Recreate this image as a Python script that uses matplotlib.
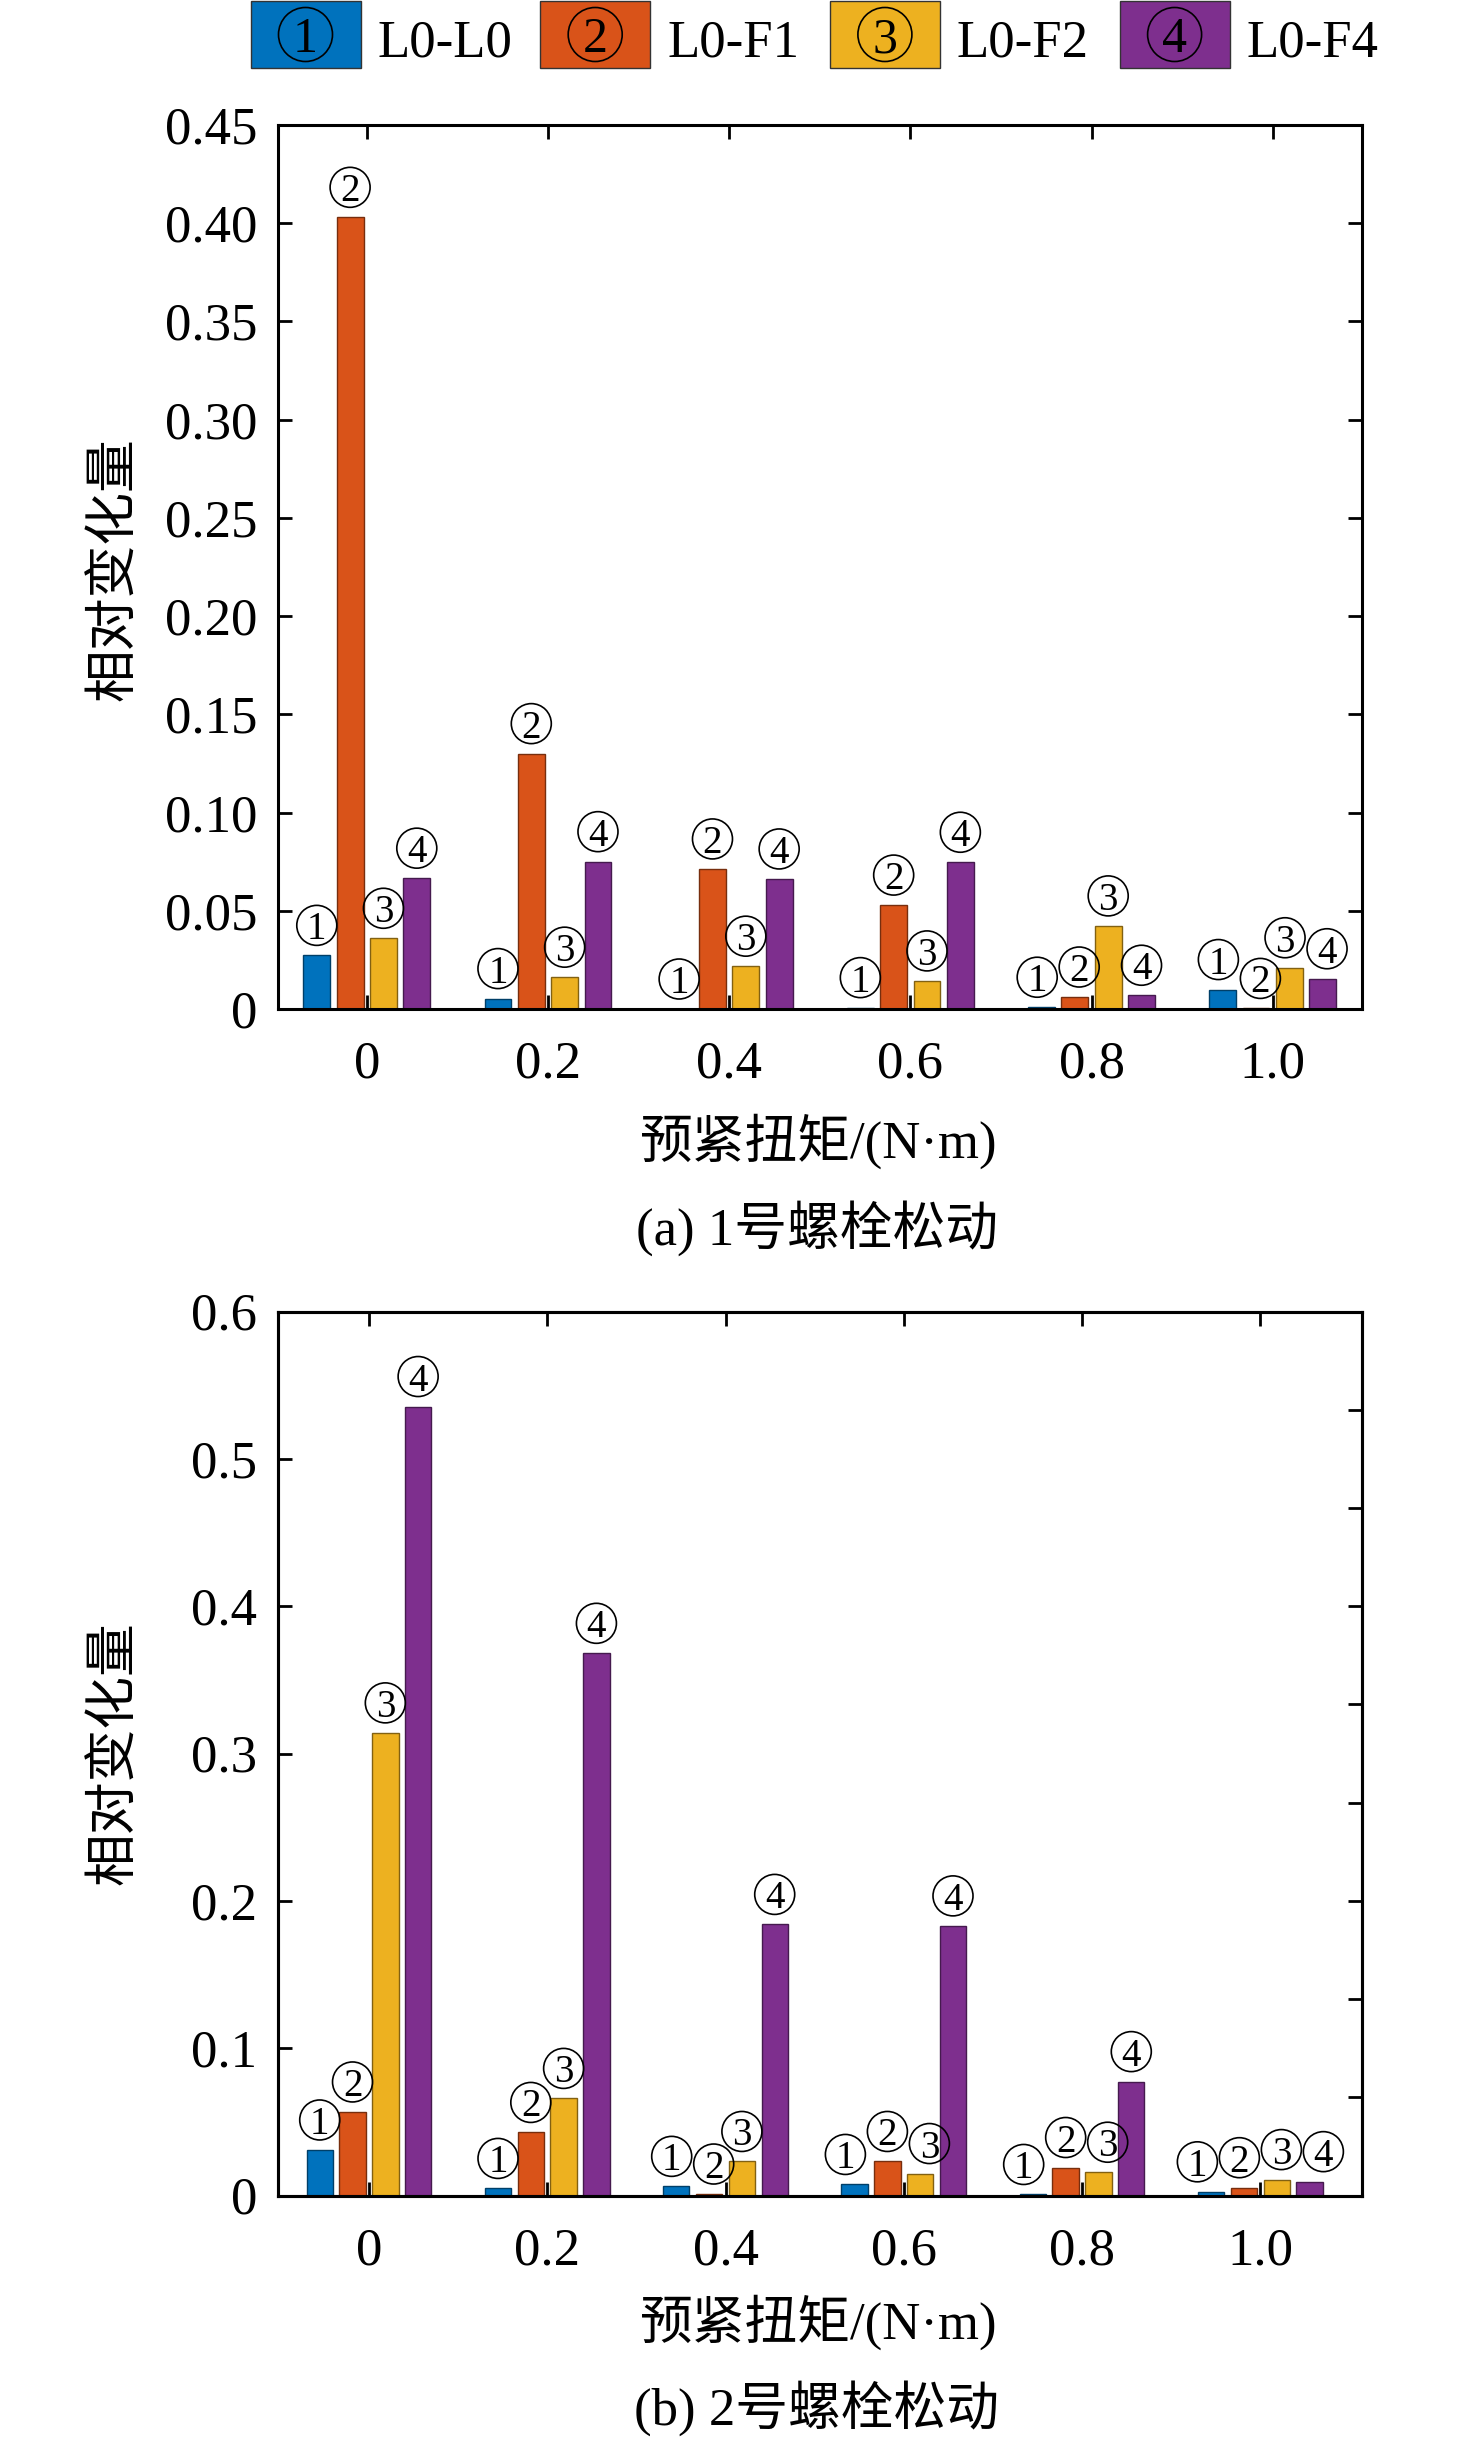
import numpy as np
import matplotlib.pyplot as plt
import matplotlib.colors as mcolors
from matplotlib.patches import Circle, Rectangle
from matplotlib.transforms import IdentityTransform

plt.rcParams['font.family'] = ['Liberation Serif', 'Noto Sans CJK SC']
plt.rcParams['axes.unicode_minus'] = False

W, H = 1476, 2444

torque = ['0', '0.2', '0.4', '0.6', '0.8', '1.0']
series = ['L0-L0', 'L0-F1', 'L0-F2', 'L0-F4']
colors = ['#0072BD', '#D95319', '#EDB120', '#7E2F8E']

# (a) bolt 1 loosened
a_l0l0 = [0.0273, 0.0053, 0.0, 0.0007, 0.0009, 0.0099]
a_l0f1 = [0.403, 0.130, 0.0713, 0.0529, 0.0061, 0.0003]
a_l0f2 = [0.036, 0.0162, 0.0218, 0.0143, 0.0423, 0.021]
a_l0f4 = [0.0666, 0.075, 0.0662, 0.0747, 0.007, 0.0154]

# (b) bolt 2 loosened
b_l0l0 = [0.0309, 0.0048, 0.0062, 0.0075, 0.0007, 0.0025]
b_l0f1 = [0.0567, 0.0428, 0.001, 0.0231, 0.019, 0.0053]
b_l0f2 = [0.314, 0.0659, 0.0231, 0.0149, 0.0158, 0.0108]
b_l0f4 = [0.5355, 0.368, 0.184, 0.183, 0.0773, 0.0094]

ID = IdentityTransform()
FS = 38


def circled(fig, px, py, n, r, fs, lw=1.2):
    fig.add_artist(Circle((px, py), r, transform=ID, fill=False,
                          ec='black', lw=lw, zorder=5))
    fig.text(px, py, str(n), transform=ID, ha='center',
             va='center_baseline', fontsize=fs, zorder=6)


def draw_panel(fig, ax, data, ylim, yticks, ylabels, xlim):
    x = np.arange(1, len(torque) + 1)
    width = 0.148
    offs = (np.arange(4) - 1.5) * 0.184
    for i, vals in enumerate(data):
        edge = np.array(mcolors.to_rgb(colors[i])) * 0.55
        ax.bar(x + offs[i], vals, width, color=colors[i], edgecolor=edge,
               linewidth=1.0, zorder=2)
    ax.set_xlim(*xlim)
    ax.set_ylim(*ylim)
    ax.set_xticks(x, torque)
    ax.set_yticks(yticks, ylabels)
    ax.tick_params(axis='both', direction='in', length=10, width=2,
                   labelsize=FS, top=True)
    ax.tick_params(axis='x', pad=23)
    ax.tick_params(axis='y', pad=15)
    for sp in ax.spines.values():
        sp.set_linewidth(2.2)

    # circled labels above bars, spread apart when they collide
    r, gap = 20, 10
    for g in range(len(torque)):
        pts = []
        for i, vals in enumerate(data):
            px, py = ax.transData.transform((x[g] + offs[i], vals[g]))
            pts.append([px, py + gap + r])
        for _ in range(30):
            for i in range(3):
                a, b = pts[i], pts[i + 1]
                if abs(a[1] - b[1]) < 30 and b[0] - a[0] < 42:
                    push = (42 - (b[0] - a[0])) / 2
                    a[0] -= push
                    b[0] += push
        for i, (px, py) in enumerate(pts):
            circled(fig, px, py, i + 1, r, 28)


fig = plt.figure(figsize=(W / 100, H / 100), dpi=100)

ax1 = fig.add_axes([278 / W, 1 - 1009 / H, 1083.5 / W, 884 / H])
t1 = np.round(np.arange(0, 0.451, 0.05), 2)
draw_panel(fig, ax1, [a_l0l0, a_l0f1, a_l0f2, a_l0f4], (0, 0.45), t1,
           ['0'] + [f'{v:.2f}' for v in t1[1:]], (0.51, 6.49))
ax1.tick_params(axis='y', right=True)

ax2 = fig.add_axes([278 / W, 1 - 2195.5 / H, 1084 / W, 884 / H])
t2 = np.round(np.arange(0, 0.61, 0.1), 1)
draw_panel(fig, ax2, [b_l0l0, b_l0f1, b_l0f2, b_l0f4], (0, 0.6), t2,
           ['0'] + [f'{v:.1f}' for v in t2[1:]], (0.49, 6.57))
ax2r = ax2.twinx()
ax2r.set_ylim(0, 0.45)
ax2r.set_yticks(t1)
ax2r.tick_params(axis='y', direction='in', length=10, width=2,
                 labelright=False)
for sp in ax2r.spines.values():
    sp.set_linewidth(2.2)

# axis titles and captions
for yl, xl, cap, text in [(569, 1141, 1228, '(a) 1号螺栓松动'),
                          (1753, 2322, 2408, '(b) 2号螺栓松动')]:
    fig.text(116 / W, 1 - yl / H, '相对变化量', rotation=90,
             ha='center', va='center', fontsize=FS)
    fig.text(819 / W, 1 - xl / H, '预紧扭矩/(N·m)', ha='center',
             va='center', fontsize=FS)
    fig.text(817 / W, 1 - cap / H, text, ha='center', va='center',
             fontsize=FS)

# legend row at the top
for i, name in enumerate(series):
    x0 = 250.5 + i * 289.7
    fig.add_artist(Rectangle((x0, H - 68), 110, 67, transform=ID,
                             fc=colors[i], ec='#333333', lw=1))
    circled(fig, x0 + 55, H - 34.5, i + 1, 27, 36)
    fig.text(x0 + 127, H - 38, name, transform=ID, ha='left',
             va='center_baseline', fontsize=38)

fig.savefig('out.png', dpi=100)
